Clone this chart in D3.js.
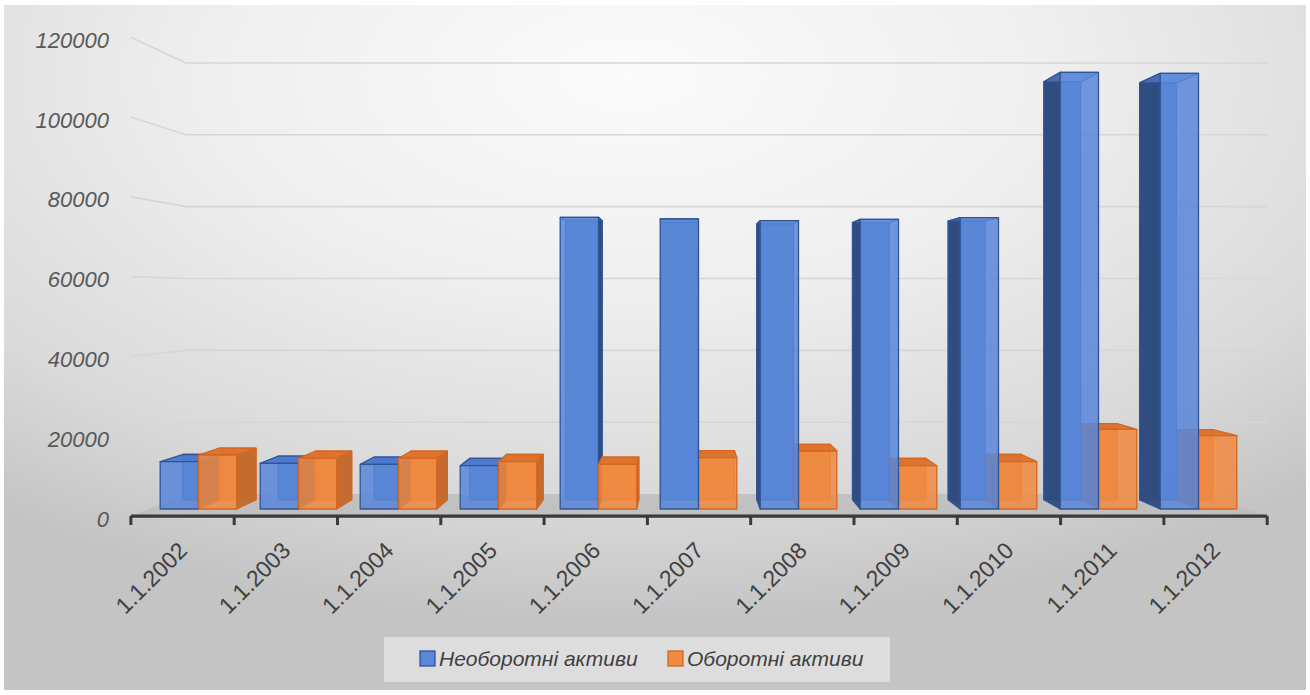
<!DOCTYPE html>
<html>
<head>
<meta charset="utf-8">
<script src="https://cdn.jsdelivr.net/npm/d3@7"></script>
<style>
  html, body { margin: 0; padding: 0; background: #ffffff; }
  svg { display: block; }
</style>
</head>
<body>
<svg id="chart" width="1310" height="695"></svg>
<script>
// ---------------- data ----------------
const categories = ["1.1.2002", "1.1.2003", "1.1.2004", "1.1.2005", "1.1.2006", "1.1.2007",
                    "1.1.2008", "1.1.2009", "1.1.2010", "1.1.2011", "1.1.2012"];
const seriesNames = ["Необоротні активи", "Оборотні активи"];
const nonCurrentAssets = [12250, 11830, 11570, 11210, 75520, 75080, 74640, 75000, 75420, 113060, 112800];
const currentAssets    = [13980, 13130, 13130, 12250, 11570, 13280, 15020, 11210, 12250, 20630, 18980];
const yTickValues = [0, 20000, 40000, 60000, 80000, 100000, 120000];

// ---------------- styling ----------------
const palette = [
  { front: "#5a87d9", edge: "#2f5597", side: "#2f4a7c", top: "#4d79cc", back: "#4a73c2" },
  { front: "#f08a42", edge: "#d5661c", side: "#c4692e", top: "#dc7430", back: "#e07a34" }
];

const svg = d3.select("#chart");
const defs = svg.append("defs");

const bg = defs.append("radialGradient").attr("id", "bgGrad")
  .attr("cx", 0.48).attr("cy", 0.1).attr("r", 0.8).attr("fx", 0.48).attr("fy", 0.1);
bg.append("stop").attr("offset", 0).attr("stop-color", "#fbfbfb");
bg.append("stop").attr("offset", 0.4).attr("stop-color", "#efefef");
bg.append("stop").attr("offset", 0.78).attr("stop-color", "#d9d9d9");
bg.append("stop").attr("offset", 1).attr("stop-color", "#c4c4c4");

svg.append("rect").attr("x", 4).attr("y", 5).attr("width", 1302).attr("height", 685)
  .attr("fill", "url(#bgGrad)");

// ---------------- 3D projection ----------------
const vp = [682, 295];          // vanishing point
const sAxis = 1.033;            // front edge of floor / axis plane
const sBarFront = 1.0;          // bar front faces
const sBarBack = 0.957;         // bar back faces
const sWall = 0.93;             // back wall
function proj(p, s) { return [vp[0] + (p[0] - vp[0]) * s, vp[1] + (p[1] - vp[1]) * s]; }

const x0 = d3.scaleBand().domain(categories).range([148.5, 1248.5])
  .paddingInner(0.234).paddingOuter(0.117);
const x1 = d3.scaleBand().domain(d3.range(seriesNames.length)).range([0, x0.bandwidth()]);
const y = d3.scaleLinear().domain([0, 120000]).range([509, 45.5]);

const rangeL = x0.range()[0], rangeR = x0.range()[1];
const line = d3.line();

// ---------------- floor ----------------
const floorPts = [
  proj([rangeL, y(0)], sAxis), proj([rangeR, y(0)], sAxis),
  proj([rangeR, y(0)], sWall), proj([rangeL, y(0)], sWall)
];
svg.append("path").attr("d", line(floorPts) + "Z")
  .attr("fill", "#bdbdbd").attr("fill-opacity", 0.85);

// ---------------- gridlines (side wall + back wall) ----------------
const grid = svg.append("g");
yTickValues.filter(v => v > 0).forEach(v => {
  const a = proj([rangeL, y(v)], sAxis);
  const b = proj([rangeL, y(v)], sWall);
  const c = [1268, b[1]];
  grid.append("path").attr("d", line([a, b, c]))
    .attr("fill", "none").attr("stroke", "#d6d6d6").attr("stroke-width", 1.6);
});

// ---------------- bars ----------------
const bars = [];
categories.forEach((cat, i) => {
  [nonCurrentAssets, currentAssets].forEach((vals, j) => {
    const xl = x0(cat) + x1(j), xr = xl + x1.bandwidth();
    bars.push({ xl, xr, yt: y(vals[i]), yb: y(0), j });
  });
});
bars.sort((a, b) => Math.abs((b.xl + b.xr) / 2 - vp[0]) - Math.abs((a.xl + a.xr) / 2 - vp[0]));

const gBars = svg.append("g");
bars.forEach(b => {
  const c = palette[b.j];
  const F = { lt: proj([b.xl, b.yt], sBarFront), rt: proj([b.xr, b.yt], sBarFront),
              rb: proj([b.xr, b.yb], sBarFront), lb: proj([b.xl, b.yb], sBarFront) };
  const B = { lt: proj([b.xl, b.yt], sBarBack), rt: proj([b.xr, b.yt], sBarBack),
              rb: proj([b.xr, b.yb], sBarBack), lb: proj([b.xl, b.yb], sBarBack) };
  const g = gBars.append("g");
  const face = (pts, fill, op) => g.append("path").attr("d", line(pts) + "Z")
    .attr("fill", fill).attr("fill-opacity", op)
    .attr("stroke", c.edge).attr("stroke-width", 1.3).attr("stroke-linejoin", "round");
  face([B.lt, B.rt, B.rb, B.lb], c.back, 0.9);
  if (b.xl > vp[0]) face([F.lt, B.lt, B.lb, F.lb], c.side, 0.95);
  if (b.xr < vp[0]) face([F.rt, B.rt, B.rb, F.rb], c.side, 0.95);
  if (b.yt > vp[1]) face([F.lt, F.rt, B.rt, B.lt], c.top, 0.97);
  else face([F.lt, F.rt, B.rt, B.lt], c.front, 0.5);
  face([F.lt, F.rt, F.rb, F.lb], c.front, 0.86);
});

// ---------------- x axis ----------------
const xa0 = proj([rangeL, y(0)], sAxis), xa1 = proj([rangeR, y(0)], sAxis);
const xAxisScale = d3.scaleBand().domain(categories).range([xa0[0], xa1[0]]);
const gx = svg.append("g");
gx.append("line").attr("x1", xa0[0]).attr("x2", xa1[0]).attr("y1", xa0[1]).attr("y2", xa0[1])
  .attr("stroke", "#3a3a3a").attr("stroke-width", 3.2);
const tickXs = categories.map(c => xAxisScale(c)).concat([xAxisScale.range()[1]]);
gx.selectAll("line.tick").data(tickXs).join("line").attr("class", "tick")
  .attr("x1", d => d).attr("x2", d => d).attr("y1", xa0[1]).attr("y2", xa0[1] + 9)
  .attr("stroke", "#3a3a3a").attr("stroke-width", 3);
gx.selectAll("text").data(categories).join("text")
  .attr("transform", d => `translate(${xAxisScale(d) + xAxisScale.bandwidth() / 2 + 6},${xa0[1] + 36}) rotate(-45)`)
  .attr("text-anchor", "end")
  .attr("font-family", "Liberation Sans, Arial, sans-serif")
  .attr("font-size", 23).attr("fill", "#404040")
  .text(d => d);

// ---------------- y axis labels ----------------
const yLab = d3.scaleLinear().domain([0, 120000])
  .range([proj([0, y(0)], sAxis)[1] + 3, proj([0, y(120000)], sAxis)[1] + 3]);
const gy = svg.append("g").attr("transform", "translate(109,0)")
  .call(d3.axisLeft(yLab).tickValues(yTickValues).tickSize(0).tickPadding(0).tickFormat(d3.format("d")));
gy.select(".domain").remove();
gy.selectAll("text")
  .attr("font-family", "Liberation Sans, Arial, sans-serif")
  .attr("font-size", 22).attr("font-style", "italic").attr("fill", "#595959");

// ---------------- legend ----------------
const lg = svg.append("g");
lg.append("rect").attr("x", 384).attr("y", 637).attr("width", 506).attr("height", 45)
  .attr("fill", "#f2f2f2").attr("fill-opacity", 0.55);
const legendX = [420, 668];
seriesNames.forEach((name, j) => {
  lg.append("rect").attr("x", legendX[j]).attr("y", 651).attr("width", 15).attr("height", 15)
    .attr("fill", palette[j].front).attr("stroke", palette[j].edge).attr("stroke-width", 1.3);
  lg.append("text").attr("x", legendX[j] + 19).attr("y", 666)
    .attr("font-family", "Liberation Sans, Arial, sans-serif")
    .attr("font-size", 21).attr("font-style", "italic").attr("fill", "#404040")
    .text(name);
});
</script>
</body>
</html>
